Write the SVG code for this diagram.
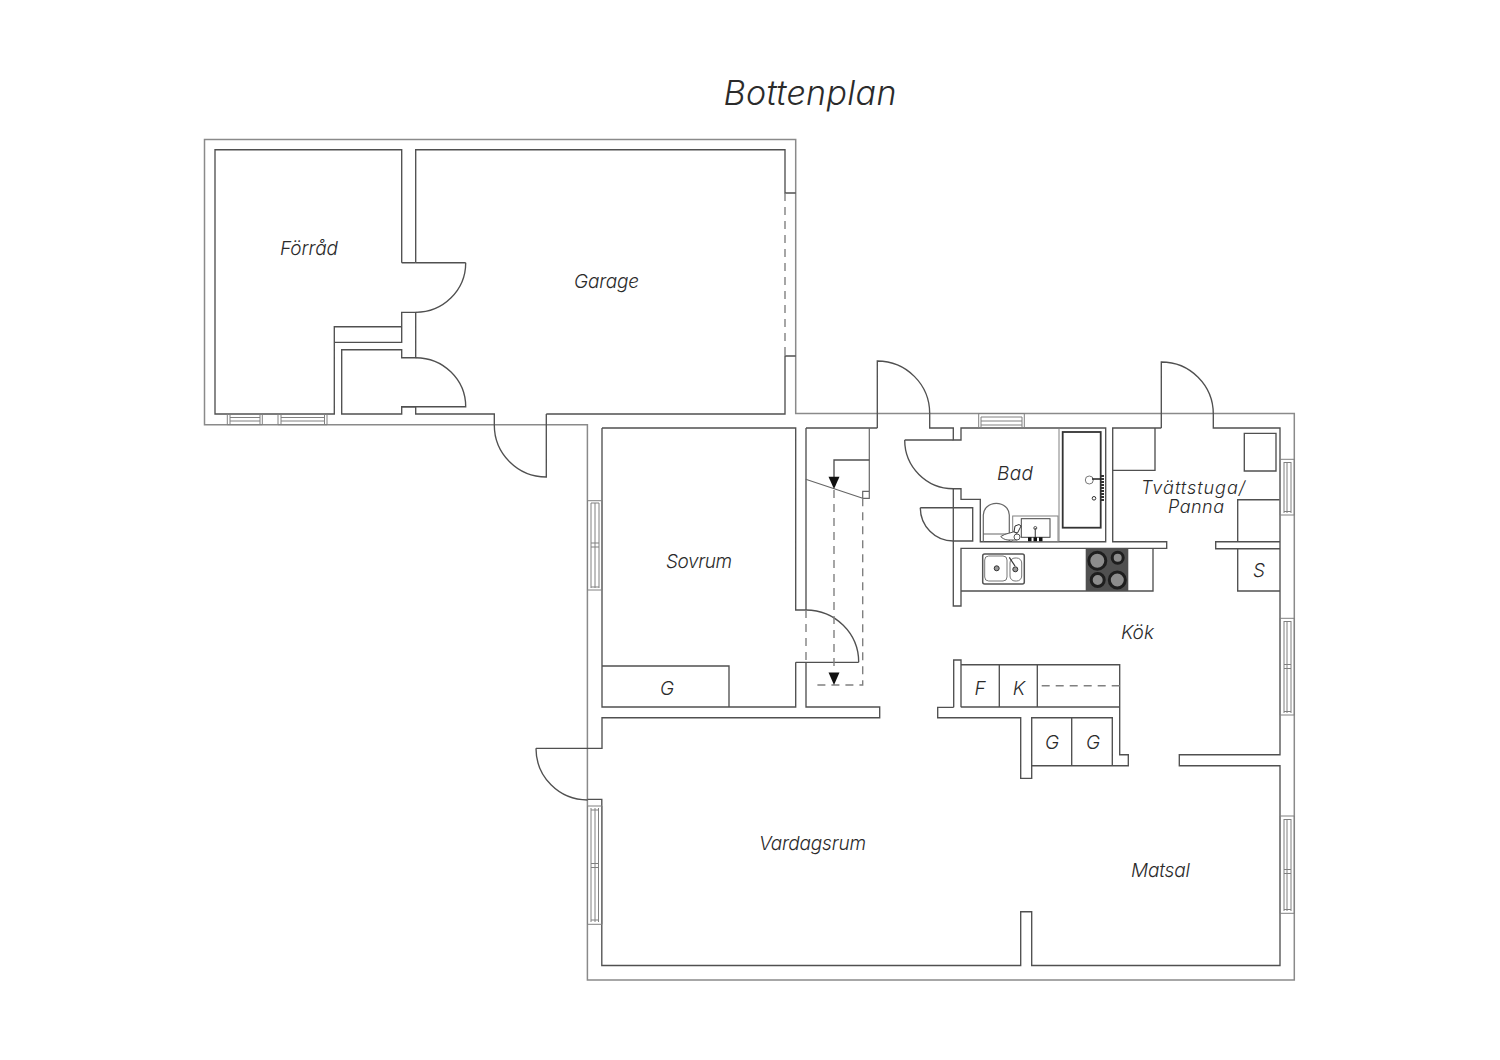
<svg xmlns="http://www.w3.org/2000/svg" width="1500" height="1060" viewBox="0 0 1500 1060">
<style>
.w{fill:none;stroke:#505050;stroke-width:1.35}
.o{fill:none;stroke:#8a8a8a;stroke-width:1.5}
.t{fill:none;stroke:#666;stroke-width:1.2}
.f{fill:none;stroke:#808080;stroke-width:1}
.d{fill:none;stroke:#808080;stroke-width:1.4;stroke-dasharray:8 6}
.b{fill:#111}
text{font-family:"Inter","Open Sans",sans-serif;font-style:italic;font-weight:300;fill:#2b2b2b;font-size:19px;text-anchor:middle}
</style>
<rect width="1500" height="1060" fill="#fff"/>
<g id="outer-walls"><path class="o" d="M204.5 424.7V139.5H795.7V413.5H1294.3V980H587.4V424.7Z"/></g>
<g id="inner-walls">
<path class="w" d="M401.7 262.7V149.7H215V414H334.3V326.7H401.7M334.3 342.3H401.7V312.3H415.7V357.7H401.7V349.7H341.7V414H401.7V406.7H415.7V414H494.3V425M415.7 262.7H401.7M415.7 262.7V149.7H785V193H795.7M795.7 356H785V414H546.3"/>
<path class="w" d="M602 428H795.7V610H806M806 428V610M806 428H877.3M929.7 413.5V428H953.3V440H961V428H1105.7V541.7H980.3V499.3H961V488.7H953.3V606H961V548.3H1166.7V541.7H1112.7V428H1161.3M1213.3 414V428H1280V754.7H1179.3V765.7H1280V965.5H1031.7V911.7H1020.7V965.5H601.8V799.3H587.5M602 428V707H795.7V662.3M806 662.3V707H879.7V717.7H602V748.3H536"/>
<path class="w" d="M953.3 541H972.7V507.7H920.3M953.3 507.7H961M961 591H1153V548.3M1112.7 470.3H1155V428M1244.3 433.3H1276V471H1244.3ZM1237.7 541.7V499.7H1280M1280 541.7H1215.7V548.7H1280M1237.7 548.7V591H1280M795.7 662.3H858.7"/>
<path class="w" d="M602 666H729V707M953.7 707.3V660H961V707.3M953.7 707.3H937.7V717.7H1020.7V778.3H1031.7V717.7H1112.3V765.7M1031.7 765.7H1128.3V754.7H1119.7V664.7H961M961 707H1119.7M999.3 664.7V707M1037.3 664.7V707M1071.7 717.7V765.7"/>
<path class="f" d="M1059 428V541.7"/>
</g>
<g id="doors">
<path class="w" d="M465.7 262.7H415.7M465.7 262.7A50 49.6 0 0 1 415.7 312.3M415.7 357.7A50 49 0 0 1 465.7 406.7H401.7M494.3 425A52 52 0 0 0 546.3 477V414M877.3 428V361A52.4 52.500 0 0 1 929.7 413.5M1161.3 428V362A52 52 0 0 1 1213.3 414M904.7 440H953.3M904.7 440A48.6 48.7 0 0 0 953.3 488.7M920.3 507.7A33 33.3 0 0 0 953.3 541M806 610A52.7 52.3 0 0 1 858.7 662.3M536 748.3A51.5 51.5 0 0 0 587.5 800"/>
</g>
<g id="windows">
<path class="f" d="M227.3 414H262.3V424.7H227.3ZM278 414H327V424.7H278ZM230 414V424.7M260 414V424.7M281 414V424.7M324.5 414V424.7M230 417.5H260M230 421H260M281 417.5H324.5M281 421H324.5"/>
<path class="f" d="M978.7 413.5H1024.3V428H978.7ZM981 417H1022M981 421H1022M981 425H1022M981 417V428M1022 417V428"/>
<path class="f" d="M587.5 500.7H602V590H587.5ZM591 503V588M595 503V588M599 503V588M591 503H599M591 587H599M591 543H599M591 547H599"/>
<path class="f" d="M587.5 806H602V924.3H587.5ZM591 808V922M595 808V922M598.5 808V922M591 810H598.5M591 920H598.5M591 863.5H598.5M591 867.5H598.5"/>
<path class="f" d="M1280 459.3H1294.3V515H1280ZM1284 462V513M1287 462V513M1291 462V513M1284 462.5H1291M1284 511.5H1291"/>
<path class="f" d="M1280 618.3H1294.3V715H1280ZM1284 621V713M1287 621V713M1291 621V713M1284 621.5H1291M1284 711.5H1291M1284 664.5H1291M1284 668.5H1291"/>
<path class="f" d="M1280 816H1294.3V913.3H1280ZM1284 819V911M1287 819V911M1291 819V911M1284 819.5H1291M1284 909.5H1291M1284 869.5H1291M1284 873.5H1291"/>
</g>
<g id="stairs">
<path class="t" d="M869.3 428V498.3H862.7V491.3H869.3M805.7 479.3L862.7 498.3"/>
<path class="w" d="M869.3 460H834V478"/>
<path class="b" d="M828.5 476.7H839.5L834 489Z"/>
<path class="d" d="M834 490V672M862.7 498.3V685H813M806 610V662"/>
<path class="b" d="M828.5 672.5H839.5L834 685Z"/>
<path class="d" d="M785 193V356M1041.7 685.7H1119.7"/>
</g>
<g id="bath-fixtures">
<rect x="1062.7" y="432" width="38" height="95.7" fill="#fff" stroke="#333" stroke-width="1.8"/>
<circle cx="1089.3" cy="480" r="4" fill="#fff" stroke="#777"/>
<path stroke="#222" stroke-width="1.500" fill="none" d="M1092 479H1103"/>
<path stroke="#333" stroke-width="3" stroke-dasharray="2 1" fill="none" d="M1102.500 475V502"/>
<circle cx="1094" cy="498.3" r="1.800" fill="none" stroke="#333"/>
<path class="t" d="M983.3 541.7V515A13 11.7 0 0 1 1009.3 515V541.7M983.3 534H1009.3"/>
<rect x="1012.7" y="516" width="45.3" height="25.7" class="f"/>
<rect x="1021.3" y="518.7" width="28.7" height="18.6" fill="#fff" stroke="#444"/>
<path stroke="#555" stroke-width="1.200" fill="none" d="M1035.3 528V538"/>
<circle cx="1035.3" cy="528" r="1.500" fill="none" stroke="#555"/>
<path class="b" d="M1028 537.3h3.500v4h-3.500ZM1033.500 537.3h3.500v4h-3.500ZM1039 537.3h3.500v4h-3.500Z"/>
<path fill="#fff" stroke="#555" d="M1000.7 536.500C1006 533 1012 533 1016 531L1017 540H1008C1005 540 1002 538 1000.7 536.500Z"/>
<path fill="#fff" stroke="#333" d="M1015 526L1019 524.500L1021 526L1017.500 533L1014 532Z"/>
<circle cx="1017" cy="537" r="3" fill="#fff" stroke="#555"/>
</g>
<g id="kitchen-fixtures">
<rect x="982.7" y="554" width="41.6" height="30" rx="2" fill="#fff" stroke="#555" stroke-width="1.500"/>
<rect x="984.700" y="556" width="22.300" height="25" rx="4" fill="#fff" stroke="#777"/>
<rect x="1010" y="558" width="11.700" height="23" rx="5" fill="#fff" stroke="#777"/>
<circle cx="996.7" cy="568.3" r="2.500" fill="#999" stroke="#333"/>
<circle cx="1015.3" cy="569.3" r="2.500" fill="#999" stroke="#333"/>
<path stroke="#333" stroke-width="1.200" fill="none" d="M1009.300 557.300L1015 566"/>
<rect x="1085.7" y="548.700" width="42.600" height="42.300" fill="#505050"/>
<g fill="#8c8c8c" stroke="#1e1e1e" stroke-width="3">
<circle cx="1097.300" cy="560.700" r="8.500"/><circle cx="1117.700" cy="557.700" r="5.500"/><circle cx="1097.700" cy="580" r="6.500"/><circle cx="1117.300" cy="580" r="8"/>
</g>
</g>
<g id="labels">
<text x="810" y="105" style="font-size:34px" textLength="173">Bottenplan</text>
<text x="309" y="255" textLength="58">Förråd</text>
<text x="606.500" y="288" textLength="65">Garage</text>
<text x="699" y="568" textLength="66">Sovrum</text>
<text x="667" y="695">G</text>
<text x="1015" y="480" textLength="36">Bad</text>
<text x="1193" y="494" style="font-size:18px" textLength="104">Tvättstuga/</text>
<text x="1196" y="513" style="font-size:18px" textLength="56">Panna</text>
<text x="1259" y="577">S</text>
<text x="1137.500" y="639" textLength="33">Kök</text>
<text x="980" y="695">F</text>
<text x="1019" y="695">K</text>
<text x="1052" y="749">G</text>
<text x="1093" y="749">G</text>
<text x="812.500" y="850" textLength="107">Vardagsrum</text>
<text x="1160.500" y="877" textLength="59">Matsal</text>
</g>
</svg>
